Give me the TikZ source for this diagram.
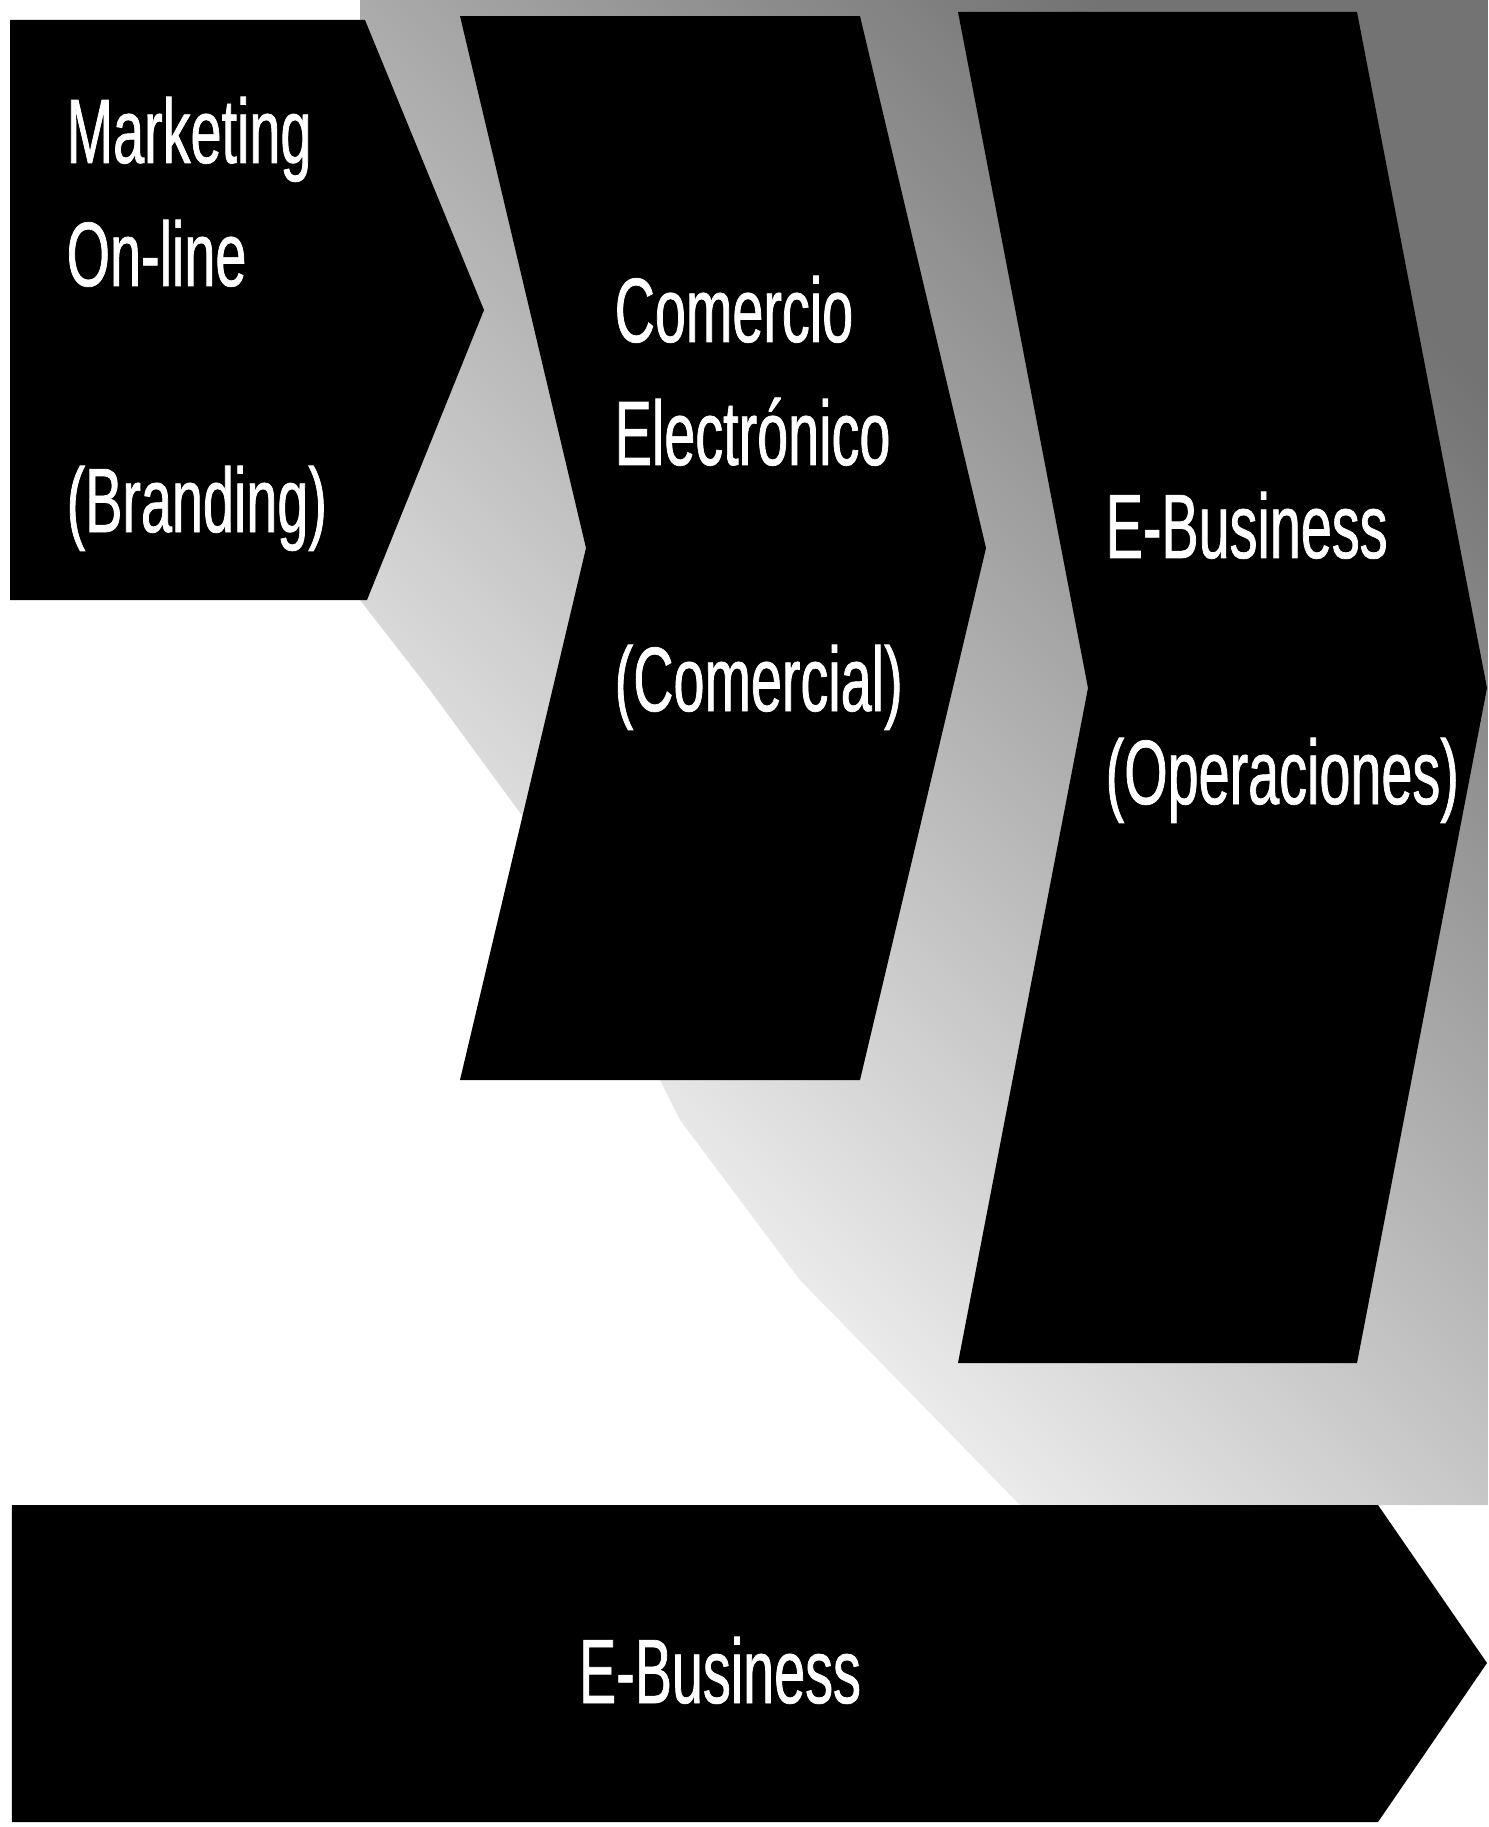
\documentclass[tikz,border=0pt]{standalone}
\usepackage{fontspec}
\newfontfamily\condfont{Liberation Sans}[FakeStretch=0.61,FakeBold=0.8]
\begin{document}
\begin{tikzpicture}[
    chevron/.style={fill=black},
    caption/.style={text=white,inner sep=0pt,align=left,anchor=base west,
      font=\condfont\fontsize{26pt}{35pt}\selectfont}]
  \useasboundingbox (0,0) rectangle (14.88,-18.27);
  \fill[white] (0,0) rectangle (14.88,-18.27);
  % speckled scan background
  \shade[top color=black!55,bottom color=white,shading angle=-45]
    (3.6,0) -- (14.88,0) -- (14.88,-15.05) -- (10.2,-15.05) -- (8.0,-12.8) -- (6.8,-11.2)
    -- (5.4,-8.4) -- (4.3,-6.9) -- (3.6,-6.0) -- cycle;
  % chevrons
  \fill[chevron] (0.10,-0.20) -- (3.65,-0.20) -- (4.84,-3.10) -- (3.67,-6.00) -- (0.10,-6.00) -- cycle;
  \fill[chevron] (4.60,-0.16) -- (8.60,-0.16) -- (9.86,-5.48) -- (8.60,-10.80) -- (4.60,-10.80) -- (5.86,-5.48) -- cycle;
  \fill[chevron] (9.58,-0.12) -- (13.57,-0.12) -- (14.87,-6.88) -- (13.57,-13.63) -- (9.58,-13.63) -- (10.88,-6.88) -- cycle;
  \fill[chevron] (0.12,-15.05) -- (13.78,-15.05) -- (14.87,-16.63) -- (13.78,-18.22) -- (0.12,-18.22) -- cycle;
  % labels (base = last line)
  \node[caption] (mkt) at (0.66,-5.32) {Marketing\\On-line\\[35pt](Branding)};
  \node[caption] (com) at (6.14,-7.11) {Comercio\\Electrónico\\[35pt](Comercial)};
  \node[caption] (ebiz) at (11.05,-8.04) {E-Business\\[35pt](Operaciones)};
  \node[caption,anchor=base] (all) at (7.20,-17.03) {E-Business};
\end{tikzpicture}
\end{document}
